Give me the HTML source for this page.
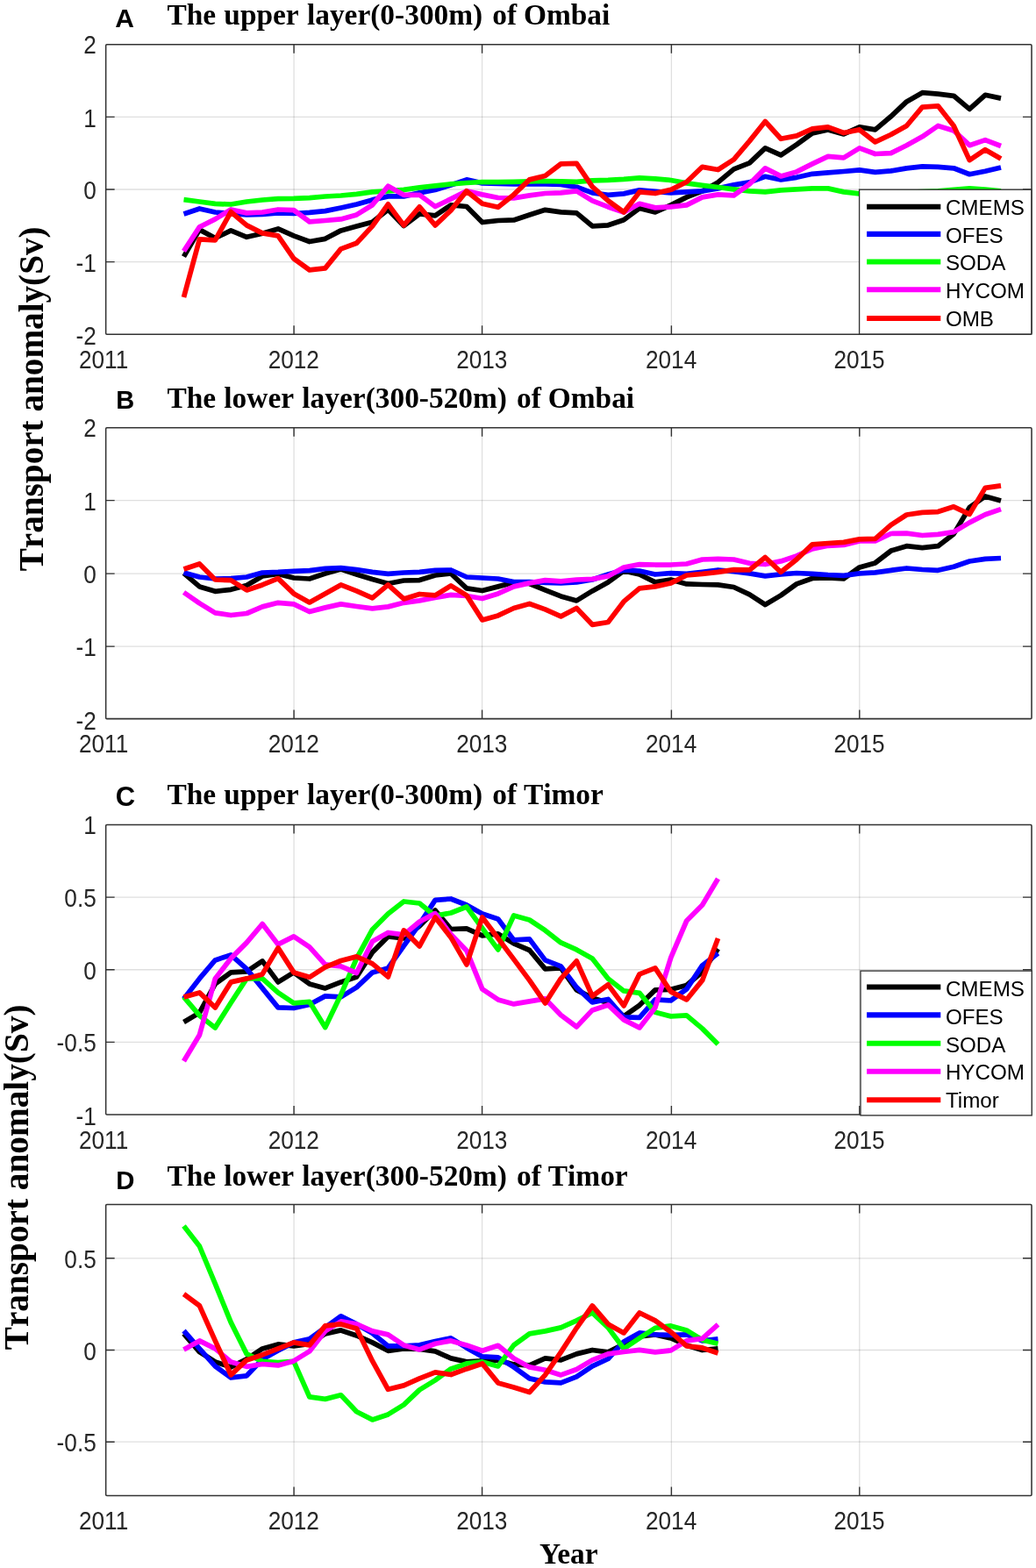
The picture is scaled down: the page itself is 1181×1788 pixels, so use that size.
<!DOCTYPE html>
<html lang="en"><head><meta charset="utf-8"><title>Transport anomaly</title>
<style>
html,body{margin:0;padding:0;background:#fff}
svg{display:block}
.ti,.yl{font-kerning:none}
.t{font-family:"Liberation Sans",Arial,sans-serif;font-size:26.2px;fill:#262626}
.lg{font-family:"Liberation Sans",Arial,sans-serif;font-size:24.2px;fill:#000}
.ti{font-family:"Liberation Serif","Times New Roman",serif;font-weight:bold;font-size:33.4px;fill:#000}
.yl{font-family:"Liberation Serif","Times New Roman",serif;font-weight:bold;font-size:40.7px;fill:#000}
.pl{font-family:"Liberation Sans",Arial,sans-serif;font-weight:bold;font-size:28.6px;fill:#000}
.ln{fill:none;stroke-width:5.75;stroke-linejoin:round;stroke-linecap:butt}
</style></head><body>
<svg width="1181" height="1788" viewBox="0 0 1181 1788">
<rect width="1181" height="1788" fill="#fff"/>

<g>
<line x1="335.08" y1="50.8" x2="335.08" y2="381.2" stroke="rgba(0,0,0,0.125)" stroke-width="1.3"/>
<line x1="549.58" y1="50.8" x2="549.58" y2="381.2" stroke="rgba(0,0,0,0.125)" stroke-width="1.3"/>
<line x1="765.39" y1="50.8" x2="765.39" y2="381.2" stroke="rgba(0,0,0,0.125)" stroke-width="1.3"/>
<line x1="979.81" y1="50.8" x2="979.81" y2="381.2" stroke="rgba(0,0,0,0.125)" stroke-width="1.3"/>
<line x1="120.65" y1="133.4" x2="1176" y2="133.4" stroke="rgba(0,0,0,0.125)" stroke-width="1.3"/>
<line x1="120.65" y1="216" x2="1176" y2="216" stroke="rgba(0,0,0,0.125)" stroke-width="1.3"/>
<line x1="120.65" y1="298.6" x2="1176" y2="298.6" stroke="rgba(0,0,0,0.125)" stroke-width="1.3"/>
<clipPath id="cA"><rect x="120.65" y="50.8" width="1055.35" height="330.4"/></clipPath>
<g clip-path="url(#cA)">
<polyline class="ln" stroke="#000" points="209.5,292.6 227.4,261.9 245.3,271.5 263.2,262.9 281.2,270.3 299.1,266.3 317.0,260.9 334.9,268.9 352.8,275.5 370.7,272.3 388.6,262.9 406.5,257.9 424.5,253.2 442.4,238.9 460.3,257.5 478.2,243.9 496.1,245.9 514.0,233.9 531.9,235.5 549.8,253.5 567.8,251.5 585.7,250.9 603.6,244.9 621.5,239.3 639.4,241.9 657.3,242.9 675.2,257.8 693.2,256.8 711.1,250.8 729.0,237.5 746.9,241.9 764.8,233.9 782.7,224.9 800.6,217.9 818.5,207.9 836.5,192.9 854.4,185.8 872.3,168.9 890.2,176.9 908.1,164.9 926.0,151.9 943.9,147.9 961.8,152.9 979.8,144.9 997.7,147.9 1015.6,132.8 1033.5,115.9 1051.4,105.7 1069.3,107.2 1087.2,109.3 1105.2,124.4 1123.1,108.3 1141.0,112.1"/>
<polyline class="ln" stroke="#0000ff" points="209.5,243.9 227.4,238.0 245.3,242.0 263.2,243.5 281.2,244.9 299.1,244.3 317.0,242.9 334.9,243.5 352.8,242.4 370.7,240.6 388.6,237.0 406.5,233.0 424.5,227.9 442.4,223.9 460.3,223.9 478.2,219.9 496.1,216.5 514.0,210.9 531.9,204.9 549.8,208.9 567.8,209.4 585.7,209.8 603.6,209.9 621.5,209.9 639.4,210.3 657.3,213.3 675.2,219.9 693.2,222.3 711.1,220.9 729.0,216.9 746.9,218.3 764.8,219.9 782.7,218.9 800.6,217.9 818.5,214.9 836.5,210.9 854.4,207.9 872.3,201.3 890.2,204.9 908.1,202.3 926.0,198.3 943.9,196.9 961.8,195.5 979.8,193.9 997.7,196.3 1015.6,194.9 1033.5,191.8 1051.4,189.8 1069.3,190.3 1087.2,191.8 1105.2,198.7 1123.1,195.2 1141.0,191.0"/>
<polyline class="ln" stroke="#00ff00" points="209.5,227.6 227.4,230.0 245.3,232.4 263.2,233.0 281.2,230.0 299.1,228.0 317.0,226.6 334.9,226.4 352.8,225.6 370.7,224.0 388.6,223.0 406.5,221.4 424.5,218.9 442.4,217.9 460.3,216.3 478.2,213.9 496.1,211.9 514.0,209.9 531.9,208.5 549.8,207.5 567.8,207.5 585.7,207.3 603.6,206.9 621.5,206.5 639.4,206.9 657.3,207.3 675.2,205.9 693.2,205.3 711.1,204.3 729.0,202.9 746.9,203.9 764.8,205.5 782.7,208.9 800.6,211.3 818.5,213.5 836.5,215.9 854.4,217.9 872.3,218.9 890.2,216.9 908.1,215.9 926.0,214.9 943.9,214.9 961.8,218.9 979.8,220.9 997.7,220.9 1015.6,220.2 1033.5,219.4 1051.4,218.6 1069.3,217.9 1087.2,216.3 1105.2,214.9 1123.1,216.0 1141.0,217.9"/>
<polyline class="ln" stroke="#ff00ff" points="209.5,286.4 227.4,258.9 245.3,249.9 263.2,239.0 281.2,242.9 299.1,242.0 317.0,239.0 334.9,239.6 352.8,252.9 370.7,251.5 388.6,249.9 406.5,244.9 424.5,233.7 442.4,212.3 460.3,222.3 478.2,222.3 496.1,235.5 514.0,226.9 531.9,217.9 549.8,221.9 567.8,225.5 585.7,225.9 603.6,222.9 621.5,220.5 639.4,219.9 657.3,217.9 675.2,228.9 693.2,235.9 711.1,241.9 729.0,232.3 746.9,236.9 764.8,235.9 782.7,233.9 800.6,224.9 818.5,221.9 836.5,222.9 854.4,209.9 872.3,191.9 890.2,200.9 908.1,195.9 926.0,186.9 943.9,178.3 961.8,179.9 979.8,168.9 997.7,175.5 1015.6,174.6 1033.5,165.7 1051.4,155.8 1069.3,143.5 1087.2,148.9 1105.2,165.7 1123.1,159.6 1141.0,166.5"/>
<polyline class="ln" stroke="#ff0000" points="209.5,339.0 227.4,272.9 245.3,273.9 263.2,241.6 281.2,256.9 299.1,265.9 317.0,268.9 334.9,294.9 352.8,307.9 370.7,305.9 388.6,283.9 406.5,277.3 424.5,257.9 442.4,232.9 460.3,256.9 478.2,235.9 496.1,256.9 514.0,239.9 531.9,217.9 549.8,232.3 567.8,236.3 585.7,221.9 603.6,204.9 621.5,200.5 639.4,186.9 657.3,186.3 675.2,212.9 693.2,228.9 711.1,241.9 729.0,218.9 746.9,220.5 764.8,216.3 782.7,207.5 800.6,190.3 818.5,193.5 836.5,181.9 854.4,160.9 872.3,138.5 890.2,158.3 908.1,154.9 926.0,146.9 943.9,144.9 961.8,151.5 979.8,147.9 997.7,161.9 1015.6,153.5 1033.5,143.5 1051.4,122.1 1069.3,120.8 1087.2,143.5 1105.2,182.6 1123.1,170.7 1141.0,181.1"/>
</g>
<path d="M335.08 50.8v10 M335.08 381.2v-10" stroke="#333" stroke-width="1.4" fill="none"/>
<path d="M549.58 50.8v10 M549.58 381.2v-10" stroke="#333" stroke-width="1.4" fill="none"/>
<path d="M765.39 50.8v10 M765.39 381.2v-10" stroke="#333" stroke-width="1.4" fill="none"/>
<path d="M979.81 50.8v10 M979.81 381.2v-10" stroke="#333" stroke-width="1.4" fill="none"/>
<path d="M120.65 133.4h10 M1176 133.4h-10" stroke="#333" stroke-width="1.4" fill="none"/>
<path d="M120.65 216h10 M1176 216h-10" stroke="#333" stroke-width="1.4" fill="none"/>
<path d="M120.65 298.6h10 M1176 298.6h-10" stroke="#333" stroke-width="1.4" fill="none"/>
<rect x="120.65" y="50.8" width="1055.35" height="330.4" rx="1.2" fill="none" stroke="#333" stroke-width="1.55"/>
<text class="t" transform="translate(118.05,419.9) scale(1,1.1)" text-anchor="middle">2011</text>
<text class="t" transform="translate(334.78,419.9) scale(1,1.1)" text-anchor="middle">2012</text>
<text class="t" transform="translate(549.28,419.9) scale(1,1.1)" text-anchor="middle">2013</text>
<text class="t" transform="translate(765.09,419.9) scale(1,1.1)" text-anchor="middle">2014</text>
<text class="t" transform="translate(979.51,419.9) scale(1,1.1)" text-anchor="middle">2015</text>
<text class="t" transform="translate(109.75,61.1) scale(1,1.1)" text-anchor="end">2</text>
<text class="t" transform="translate(109.75,144.5) scale(1,1.1)" text-anchor="end">1</text>
<text class="t" transform="translate(109.75,227.1) scale(1,1.1)" text-anchor="end">0</text>
<text class="t" transform="translate(109.75,309.7) scale(1,1.1)" text-anchor="end">-1</text>
<text class="t" transform="translate(109.75,393.1) scale(1,1.1)" text-anchor="end">-2</text>
<text class="ti" y="28"><tspan x="190.5">The</tspan> <tspan x="255.33">upper</tspan> <tspan x="349.95">layer(0-300m)</tspan> <tspan x="561.23">of</tspan> <tspan x="597">Ombai</tspan></text>
<text class="pl" style="font-size:30px" x="131.2" y="31.3">A</text>
</g>
<g>
<line x1="335.08" y1="487.7" x2="335.08" y2="819.6" stroke="rgba(0,0,0,0.125)" stroke-width="1.3"/>
<line x1="549.58" y1="487.7" x2="549.58" y2="819.6" stroke="rgba(0,0,0,0.125)" stroke-width="1.3"/>
<line x1="765.39" y1="487.7" x2="765.39" y2="819.6" stroke="rgba(0,0,0,0.125)" stroke-width="1.3"/>
<line x1="979.81" y1="487.7" x2="979.81" y2="819.6" stroke="rgba(0,0,0,0.125)" stroke-width="1.3"/>
<line x1="120.65" y1="570.67" x2="1176" y2="570.67" stroke="rgba(0,0,0,0.125)" stroke-width="1.3"/>
<line x1="120.65" y1="654.15" x2="1176" y2="654.15" stroke="rgba(0,0,0,0.125)" stroke-width="1.3"/>
<line x1="120.65" y1="737.12" x2="1176" y2="737.12" stroke="rgba(0,0,0,0.125)" stroke-width="1.3"/>
<clipPath id="cB"><rect x="120.65" y="487.7" width="1055.35" height="331.9"/></clipPath>
<g clip-path="url(#cB)">
<polyline class="ln" stroke="#000" points="209.5,653.6 227.4,668.9 245.3,674.3 263.2,672.3 281.2,667.5 299.1,657.0 317.0,654.4 334.9,659.0 352.8,660.0 370.7,654.0 388.6,649.0 406.5,655.0 424.5,660.6 442.4,665.5 460.3,662.0 478.2,661.6 496.1,656.0 514.0,654.0 531.9,670.9 549.8,673.5 567.8,668.9 585.7,664.3 603.6,665.5 621.5,672.9 639.4,679.9 657.3,684.9 675.2,673.9 693.2,663.9 711.1,651.0 729.0,655.0 746.9,663.9 764.8,661.0 782.7,665.9 800.6,666.5 818.5,666.9 836.5,669.5 854.4,677.9 872.3,689.5 890.2,678.9 908.1,665.9 926.0,659.5 943.9,658.9 961.8,659.9 979.8,646.9 997.7,641.9 1015.6,628.1 1033.5,622.7 1051.4,624.7 1069.3,622.7 1087.2,608.9 1105.2,578.7 1123.1,566.0 1141.0,571.1"/>
<polyline class="ln" stroke="#0000ff" points="209.5,653.0 227.4,658.0 245.3,660.0 263.2,659.6 281.2,658.0 299.1,653.0 317.0,652.4 334.9,651.4 352.8,650.6 370.7,648.4 388.6,647.6 406.5,649.6 424.5,652.4 442.4,654.4 460.3,653.0 478.2,652.4 496.1,650.4 514.0,650.0 531.9,658.0 549.8,659.0 567.8,660.0 585.7,663.5 603.6,663.5 621.5,664.3 639.4,664.9 657.3,663.9 675.2,661.0 693.2,655.0 711.1,650.0 729.0,651.0 746.9,655.0 764.8,653.6 782.7,654.4 800.6,652.4 818.5,650.0 836.5,651.6 854.4,653.9 872.3,656.9 890.2,654.9 908.1,653.5 926.0,654.3 943.9,655.5 961.8,656.3 979.8,653.9 997.7,652.9 1015.6,650.3 1033.5,648.0 1051.4,649.5 1069.3,650.3 1087.2,646.2 1105.2,640.0 1123.1,637.3 1141.0,636.5"/>
<polyline class="ln" stroke="#ff00ff" points="209.5,675.5 227.4,687.9 245.3,698.9 263.2,701.5 281.2,699.5 299.1,691.9 317.0,687.3 334.9,688.9 352.8,697.5 370.7,692.9 388.6,688.9 406.5,691.5 424.5,693.9 442.4,691.9 460.3,687.3 478.2,684.9 496.1,681.5 514.0,678.3 531.9,679.5 549.8,682.5 567.8,676.9 585.7,668.9 603.6,664.9 621.5,661.6 639.4,662.9 657.3,661.0 675.2,660.4 693.2,657.0 711.1,647.0 729.0,643.6 746.9,644.0 764.8,644.0 782.7,643.0 800.6,638.0 818.5,637.4 836.5,638.0 854.4,642.3 872.3,643.5 890.2,639.9 908.1,633.9 926.0,625.9 943.9,622.3 961.8,621.5 979.8,616.9 997.7,616.9 1015.6,608.5 1033.5,608.2 1051.4,610.5 1069.3,609.4 1087.2,606.6 1105.2,595.9 1123.1,586.7 1141.0,580.6"/>
<polyline class="ln" stroke="#ff0000" points="209.5,649.0 227.4,643.0 245.3,661.0 263.2,661.6 281.2,672.9 299.1,666.9 317.0,659.6 334.9,676.9 352.8,686.9 370.7,676.9 388.6,666.9 406.5,673.9 424.5,681.9 442.4,666.9 460.3,682.9 478.2,677.5 496.1,678.9 514.0,667.9 531.9,678.9 549.8,706.9 567.8,701.9 585.7,693.5 603.6,688.5 621.5,694.9 639.4,702.9 657.3,693.5 675.2,712.3 693.2,709.5 711.1,685.9 729.0,670.9 746.9,668.9 764.8,664.9 782.7,656.0 800.6,654.4 818.5,652.4 836.5,649.6 854.4,649.9 872.3,635.5 890.2,652.3 908.1,637.9 926.0,620.9 943.9,619.5 961.8,618.3 979.8,614.9 997.7,614.3 1015.6,598.7 1033.5,587.0 1051.4,584.4 1069.3,583.6 1087.2,577.8 1105.2,586.4 1123.1,556.4 1141.0,553.8"/>
</g>
<path d="M335.08 487.7v10 M335.08 819.6v-10" stroke="#333" stroke-width="1.4" fill="none"/>
<path d="M549.58 487.7v10 M549.58 819.6v-10" stroke="#333" stroke-width="1.4" fill="none"/>
<path d="M765.39 487.7v10 M765.39 819.6v-10" stroke="#333" stroke-width="1.4" fill="none"/>
<path d="M979.81 487.7v10 M979.81 819.6v-10" stroke="#333" stroke-width="1.4" fill="none"/>
<path d="M120.65 570.67h10 M1176 570.67h-10" stroke="#333" stroke-width="1.4" fill="none"/>
<path d="M120.65 654.15h10 M1176 654.15h-10" stroke="#333" stroke-width="1.4" fill="none"/>
<path d="M120.65 737.12h10 M1176 737.12h-10" stroke="#333" stroke-width="1.4" fill="none"/>
<rect x="120.65" y="487.7" width="1055.35" height="331.9" rx="1.2" fill="none" stroke="#333" stroke-width="1.55"/>
<text class="t" transform="translate(118.05,858.3) scale(1,1.1)" text-anchor="middle">2011</text>
<text class="t" transform="translate(334.78,858.3) scale(1,1.1)" text-anchor="middle">2012</text>
<text class="t" transform="translate(549.28,858.3) scale(1,1.1)" text-anchor="middle">2013</text>
<text class="t" transform="translate(765.09,858.3) scale(1,1.1)" text-anchor="middle">2014</text>
<text class="t" transform="translate(979.51,858.3) scale(1,1.1)" text-anchor="middle">2015</text>
<text class="t" transform="translate(109.75,498) scale(1,1.1)" text-anchor="end">2</text>
<text class="t" transform="translate(109.75,581.77) scale(1,1.1)" text-anchor="end">1</text>
<text class="t" transform="translate(109.75,665.25) scale(1,1.1)" text-anchor="end">0</text>
<text class="t" transform="translate(109.75,748.23) scale(1,1.1)" text-anchor="end">-1</text>
<text class="t" transform="translate(109.75,831.5) scale(1,1.1)" text-anchor="end">-2</text>
<text class="ti" y="465.1"><tspan x="190.5">The</tspan> <tspan x="255.33">lower</tspan> <tspan x="344.34">layer(300-520m)</tspan> <tspan x="589.02">of</tspan> <tspan x="624.79">Ombai</tspan></text>
<text class="pl" style="font-size:29px" x="132.2" y="466">B</text>
</g>
<g>
<line x1="335.08" y1="940.5" x2="335.08" y2="1271" stroke="rgba(0,0,0,0.125)" stroke-width="1.3"/>
<line x1="549.58" y1="940.5" x2="549.58" y2="1271" stroke="rgba(0,0,0,0.125)" stroke-width="1.3"/>
<line x1="765.39" y1="940.5" x2="765.39" y2="1271" stroke="rgba(0,0,0,0.125)" stroke-width="1.3"/>
<line x1="979.81" y1="940.5" x2="979.81" y2="1271" stroke="rgba(0,0,0,0.125)" stroke-width="1.3"/>
<line x1="120.65" y1="1023.12" x2="1176" y2="1023.12" stroke="rgba(0,0,0,0.125)" stroke-width="1.3"/>
<line x1="120.65" y1="1105.75" x2="1176" y2="1105.75" stroke="rgba(0,0,0,0.125)" stroke-width="1.3"/>
<line x1="120.65" y1="1188.38" x2="1176" y2="1188.38" stroke="rgba(0,0,0,0.125)" stroke-width="1.3"/>
<clipPath id="cC"><rect x="120.65" y="940.5" width="1055.35" height="330.5"/></clipPath>
<g clip-path="url(#cC)">
<polyline class="ln" stroke="#000" points="209.5,1165.5 227.4,1154.9 245.3,1121.9 263.2,1108.9 281.2,1107.9 299.1,1095.9 317.0,1119.9 334.9,1108.9 352.8,1121.9 370.7,1126.9 388.6,1119.9 406.5,1113.9 424.5,1085.9 442.4,1067.9 460.3,1069.9 478.2,1055.9 496.1,1038.0 514.0,1059.5 531.9,1058.9 549.8,1066.9 567.8,1064.9 585.7,1075.9 603.6,1083.5 621.5,1104.9 639.4,1103.9 657.3,1128.9 675.2,1137.9 693.2,1143.5 711.1,1158.9 729.0,1146.3 746.9,1128.9 764.8,1128.3 782.7,1123.5 800.6,1108.3 818.5,1081.9"/>
<polyline class="ln" stroke="#0000ff" points="209.5,1138.9 227.4,1115.9 245.3,1094.9 263.2,1088.9 281.2,1104.9 299.1,1126.9 317.0,1148.9 334.9,1149.5 352.8,1145.5 370.7,1135.9 388.6,1136.9 406.5,1125.9 424.5,1108.9 442.4,1103.9 460.3,1078.5 478.2,1053.9 496.1,1026.4 514.0,1025.0 531.9,1032.0 549.8,1042.0 567.8,1048.0 585.7,1071.9 603.6,1070.9 621.5,1094.9 639.4,1101.9 657.3,1125.9 675.2,1142.9 693.2,1139.5 711.1,1159.9 729.0,1160.3 746.9,1139.9 764.8,1140.9 782.7,1127.9 800.6,1100.9 818.5,1086.9"/>
<polyline class="ln" stroke="#00ff00" points="209.5,1136.9 227.4,1157.9 245.3,1171.9 263.2,1143.5 281.2,1115.9 299.1,1115.9 317.0,1131.9 334.9,1143.9 352.8,1142.3 370.7,1171.5 388.6,1134.3 406.5,1092.8 424.5,1060.0 442.4,1042.0 460.3,1028.0 478.2,1030.0 496.1,1044.4 514.0,1041.0 531.9,1034.0 549.8,1058.5 567.8,1082.9 585.7,1044.0 603.6,1049.0 621.5,1060.9 639.4,1074.9 657.3,1082.9 675.2,1092.9 693.2,1115.9 711.1,1129.9 729.0,1132.3 746.9,1154.3 764.8,1158.9 782.7,1157.9 800.6,1172.9 818.5,1190.8"/>
<polyline class="ln" stroke="#ff00ff" points="209.5,1210.1 227.4,1180.2 245.3,1115.9 263.2,1092.9 281.2,1074.9 299.1,1053.6 317.0,1076.9 334.9,1067.9 352.8,1079.9 370.7,1099.9 388.6,1101.9 406.5,1109.5 424.5,1073.6 442.4,1063.5 460.3,1065.9 478.2,1051.0 496.1,1041.6 514.0,1065.5 531.9,1083.9 549.8,1127.9 567.8,1139.9 585.7,1144.9 603.6,1141.9 621.5,1138.9 639.4,1157.5 657.3,1170.9 675.2,1151.9 693.2,1145.9 711.1,1162.9 729.0,1171.9 746.9,1148.9 764.8,1091.9 782.7,1050.0 800.6,1032.0 818.5,1002.0"/>
<polyline class="ln" stroke="#ff0000" points="209.5,1136.9 227.4,1131.9 245.3,1148.9 263.2,1119.9 281.2,1115.9 299.1,1110.9 317.0,1080.9 334.9,1108.9 352.8,1114.3 370.7,1102.9 388.6,1095.5 406.5,1090.9 424.5,1098.9 442.4,1113.9 460.3,1060.9 478.2,1078.9 496.1,1046.0 514.0,1068.9 531.9,1099.9 549.8,1046.0 567.8,1069.9 585.7,1093.9 603.6,1117.9 621.5,1143.9 639.4,1115.9 657.3,1095.9 675.2,1135.9 693.2,1122.9 711.1,1146.9 729.0,1110.9 746.9,1103.9 764.8,1130.9 782.7,1139.9 800.6,1117.9 818.5,1069.9"/>
</g>
<path d="M335.08 940.5v10 M335.08 1271v-10" stroke="#333" stroke-width="1.4" fill="none"/>
<path d="M549.58 940.5v10 M549.58 1271v-10" stroke="#333" stroke-width="1.4" fill="none"/>
<path d="M765.39 940.5v10 M765.39 1271v-10" stroke="#333" stroke-width="1.4" fill="none"/>
<path d="M979.81 940.5v10 M979.81 1271v-10" stroke="#333" stroke-width="1.4" fill="none"/>
<path d="M120.65 1023.12h10 M1176 1023.12h-10" stroke="#333" stroke-width="1.4" fill="none"/>
<path d="M120.65 1105.75h10 M1176 1105.75h-10" stroke="#333" stroke-width="1.4" fill="none"/>
<path d="M120.65 1188.38h10 M1176 1188.38h-10" stroke="#333" stroke-width="1.4" fill="none"/>
<rect x="120.65" y="940.5" width="1055.35" height="330.5" rx="1.2" fill="none" stroke="#333" stroke-width="1.55"/>
<text class="t" transform="translate(118.05,1309.7) scale(1,1.1)" text-anchor="middle">2011</text>
<text class="t" transform="translate(334.78,1309.7) scale(1,1.1)" text-anchor="middle">2012</text>
<text class="t" transform="translate(549.28,1309.7) scale(1,1.1)" text-anchor="middle">2013</text>
<text class="t" transform="translate(765.09,1309.7) scale(1,1.1)" text-anchor="middle">2014</text>
<text class="t" transform="translate(979.51,1309.7) scale(1,1.1)" text-anchor="middle">2015</text>
<text class="t" transform="translate(109.75,950.8) scale(1,1.1)" text-anchor="end">1</text>
<text class="t" transform="translate(109.75,1034.22) scale(1,1.1)" text-anchor="end">0.5</text>
<text class="t" transform="translate(109.75,1116.85) scale(1,1.1)" text-anchor="end">0</text>
<text class="t" transform="translate(109.75,1199.47) scale(1,1.1)" text-anchor="end">-0.5</text>
<text class="t" transform="translate(109.75,1282.9) scale(1,1.1)" text-anchor="end">-1</text>
<text class="ti" y="917.4"><tspan x="190.5">The</tspan> <tspan x="255.33">upper</tspan> <tspan x="349.95">layer(0-300m)</tspan> <tspan x="561.23">of</tspan> <tspan x="597">Timor</tspan></text>
<text class="pl" style="font-size:31px" x="131.8" y="919.4">C</text>
</g>
<g>
<line x1="335.08" y1="1373.5" x2="335.08" y2="1705.5" stroke="rgba(0,0,0,0.125)" stroke-width="1.3"/>
<line x1="549.58" y1="1373.5" x2="549.58" y2="1705.5" stroke="rgba(0,0,0,0.125)" stroke-width="1.3"/>
<line x1="765.39" y1="1373.5" x2="765.39" y2="1705.5" stroke="rgba(0,0,0,0.125)" stroke-width="1.3"/>
<line x1="979.81" y1="1373.5" x2="979.81" y2="1705.5" stroke="rgba(0,0,0,0.125)" stroke-width="1.3"/>
<line x1="120.65" y1="1434.81" x2="1176" y2="1434.81" stroke="rgba(0,0,0,0.125)" stroke-width="1.3"/>
<line x1="120.65" y1="1539.5" x2="1176" y2="1539.5" stroke="rgba(0,0,0,0.125)" stroke-width="1.3"/>
<line x1="120.65" y1="1644.19" x2="1176" y2="1644.19" stroke="rgba(0,0,0,0.125)" stroke-width="1.3"/>
<clipPath id="cD"><rect x="120.65" y="1373.5" width="1055.35" height="332"/></clipPath>
<g clip-path="url(#cD)">
<polyline class="ln" stroke="#000" points="209.5,1520.9 227.4,1541.5 245.3,1552.9 263.2,1558.9 281.2,1549.9 299.1,1537.9 317.0,1532.9 334.9,1534.9 352.8,1532.3 370.7,1520.9 388.6,1516.9 406.5,1522.9 424.5,1530.9 442.4,1540.3 460.3,1537.9 478.2,1538.3 496.1,1540.9 514.0,1548.9 531.9,1552.9 549.8,1551.9 567.8,1550.9 585.7,1555.9 603.6,1556.9 621.5,1548.9 639.4,1550.9 657.3,1543.9 675.2,1539.5 693.2,1541.9 711.1,1532.9 729.0,1523.9 746.9,1521.9 764.8,1525.9 782.7,1533.9 800.6,1539.5 818.5,1537.9"/>
<polyline class="ln" stroke="#0000ff" points="209.5,1517.5 227.4,1537.9 245.3,1557.9 263.2,1570.8 281.2,1568.8 299.1,1549.9 317.0,1539.9 334.9,1530.9 352.8,1526.9 370.7,1513.9 388.6,1500.9 406.5,1509.9 424.5,1520.3 442.4,1534.9 460.3,1534.9 478.2,1533.9 496.1,1529.5 514.0,1525.9 531.9,1536.9 549.8,1546.9 567.8,1547.9 585.7,1558.9 603.6,1571.9 621.5,1575.9 639.4,1576.9 657.3,1569.9 675.2,1557.9 693.2,1549.5 711.1,1529.9 729.0,1519.9 746.9,1521.9 764.8,1522.3 782.7,1521.9 800.6,1528.9 818.5,1526.9"/>
<polyline class="ln" stroke="#00ff00" points="209.5,1398.0 227.4,1421.0 245.3,1463.9 263.2,1507.9 281.2,1543.9 299.1,1552.3 317.0,1553.5 334.9,1552.3 352.8,1592.8 370.7,1595.4 388.6,1590.8 406.5,1609.8 424.5,1618.9 442.4,1612.9 460.3,1601.9 478.2,1584.9 496.1,1573.9 514.0,1560.9 531.9,1554.9 549.8,1552.9 567.8,1557.9 585.7,1533.9 603.6,1520.9 621.5,1517.9 639.4,1513.9 657.3,1505.9 675.2,1497.0 693.2,1513.9 711.1,1537.9 729.0,1525.9 746.9,1514.3 764.8,1511.9 782.7,1516.9 800.6,1527.9 818.5,1532.3"/>
<polyline class="ln" stroke="#ff00ff" points="209.5,1538.9 227.4,1528.9 245.3,1537.9 263.2,1552.9 281.2,1558.3 299.1,1555.5 317.0,1556.9 334.9,1551.9 352.8,1540.9 370.7,1517.9 388.6,1506.9 406.5,1509.9 424.5,1517.9 442.4,1521.9 460.3,1533.9 478.2,1538.9 496.1,1532.3 514.0,1528.9 531.9,1533.9 549.8,1540.3 567.8,1534.3 585.7,1548.9 603.6,1558.9 621.5,1562.3 639.4,1567.9 657.3,1561.5 675.2,1550.9 693.2,1543.9 711.1,1541.5 729.0,1539.3 746.9,1541.9 764.8,1539.9 782.7,1528.9 800.6,1526.3 818.5,1510.3"/>
<polyline class="ln" stroke="#ff0000" points="209.5,1475.6 227.4,1488.9 245.3,1528.9 263.2,1567.8 281.2,1550.9 299.1,1544.9 317.0,1537.9 334.9,1530.9 352.8,1533.9 370.7,1511.9 388.6,1509.9 406.5,1514.9 424.5,1551.9 442.4,1584.3 460.3,1579.9 478.2,1571.9 496.1,1564.9 514.0,1567.5 531.9,1560.9 549.8,1554.9 567.8,1576.9 585.7,1581.9 603.6,1587.5 621.5,1567.9 639.4,1541.9 657.3,1514.3 675.2,1489.0 693.2,1509.9 711.1,1519.9 729.0,1497.0 746.9,1505.9 764.8,1518.9 782.7,1534.9 800.6,1536.9 818.5,1542.9"/>
</g>
<path d="M335.08 1373.5v10 M335.08 1705.5v-10" stroke="#333" stroke-width="1.4" fill="none"/>
<path d="M549.58 1373.5v10 M549.58 1705.5v-10" stroke="#333" stroke-width="1.4" fill="none"/>
<path d="M765.39 1373.5v10 M765.39 1705.5v-10" stroke="#333" stroke-width="1.4" fill="none"/>
<path d="M979.81 1373.5v10 M979.81 1705.5v-10" stroke="#333" stroke-width="1.4" fill="none"/>
<path d="M120.65 1434.81h10 M1176 1434.81h-10" stroke="#333" stroke-width="1.4" fill="none"/>
<path d="M120.65 1539.5h10 M1176 1539.5h-10" stroke="#333" stroke-width="1.4" fill="none"/>
<path d="M120.65 1644.19h10 M1176 1644.19h-10" stroke="#333" stroke-width="1.4" fill="none"/>
<rect x="120.65" y="1373.5" width="1055.35" height="332" rx="1.2" fill="none" stroke="#333" stroke-width="1.55"/>
<text class="t" transform="translate(118.05,1744.2) scale(1,1.1)" text-anchor="middle">2011</text>
<text class="t" transform="translate(334.78,1744.2) scale(1,1.1)" text-anchor="middle">2012</text>
<text class="t" transform="translate(549.28,1744.2) scale(1,1.1)" text-anchor="middle">2013</text>
<text class="t" transform="translate(765.09,1744.2) scale(1,1.1)" text-anchor="middle">2014</text>
<text class="t" transform="translate(979.51,1744.2) scale(1,1.1)" text-anchor="middle">2015</text>
<text class="t" transform="translate(109.75,1445.91) scale(1,1.1)" text-anchor="end">0.5</text>
<text class="t" transform="translate(109.75,1550.6) scale(1,1.1)" text-anchor="end">0</text>
<text class="t" transform="translate(109.75,1655.29) scale(1,1.1)" text-anchor="end">-0.5</text>
<text class="ti" y="1351.7"><tspan x="190.5">The</tspan> <tspan x="255.33">lower</tspan> <tspan x="344.34">layer(300-520m)</tspan> <tspan x="589.02">of</tspan> <tspan x="624.79">Timor</tspan></text>
<text class="pl" style="font-size:29.3px" x="132.2" y="1355.9">D</text>
</g>
<g>
<rect x="979.6" y="216.2" width="196.2" height="164.8" fill="#fff" stroke="#333" stroke-width="1.35"/>
<line x1="988.1" y1="235.8" x2="1072.3" y2="235.8" stroke="#000" stroke-width="6.1"/>
<text class="lg" x="1077.9" y="244.8">CMEMS</text>
<line x1="988.1" y1="266.9" x2="1072.3" y2="266.9" stroke="#0000ff" stroke-width="6.1"/>
<text class="lg" x="1077.9" y="276.6">OFES</text>
<line x1="988.1" y1="298.5" x2="1072.3" y2="298.5" stroke="#00ff00" stroke-width="6.1"/>
<text class="lg" x="1077.9" y="308.2">SODA</text>
<line x1="988.1" y1="330.3" x2="1072.3" y2="330.3" stroke="#ff00ff" stroke-width="6.1"/>
<text class="lg" x="1077.9" y="340.2">HYCOM</text>
<line x1="988.1" y1="363" x2="1072.3" y2="363" stroke="#ff0000" stroke-width="6.1"/>
<text class="lg" x="1077.9" y="372.2">OMB</text>
</g>
<g>
<rect x="981" y="1107.1" width="195.2" height="164.8" fill="#fff" stroke="#333" stroke-width="1.35"/>
<line x1="988.1" y1="1125.5" x2="1072.3" y2="1125.5" stroke="#000" stroke-width="6.1"/>
<text class="lg" x="1077.9" y="1135.7">CMEMS</text>
<line x1="988.1" y1="1157.4" x2="1072.3" y2="1157.4" stroke="#0000ff" stroke-width="6.1"/>
<text class="lg" x="1077.9" y="1168">OFES</text>
<line x1="988.1" y1="1189.7" x2="1072.3" y2="1189.7" stroke="#00ff00" stroke-width="6.1"/>
<text class="lg" x="1077.9" y="1199.5">SODA</text>
<line x1="988.1" y1="1221.8" x2="1072.3" y2="1221.8" stroke="#ff00ff" stroke-width="6.1"/>
<text class="lg" x="1077.9" y="1231.1">HYCOM</text>
<line x1="988.1" y1="1254.2" x2="1072.3" y2="1254.2" stroke="#ff0000" stroke-width="6.1"/>
<text class="lg" x="1077.9" y="1263.4">Timor</text>
</g>
<text class="yl" transform="translate(48.6,651.3) rotate(-90) scale(0.963,1)">Transport anomaly(Sv)</text>
<text class="yl" transform="translate(31.7,1539.3) rotate(-90) scale(0.965,1)">Transport anomaly(Sv)</text>
<text class="ti" style="font-kerning:normal" x="614.9" y="1782.6">Year</text>
</svg></body></html>
